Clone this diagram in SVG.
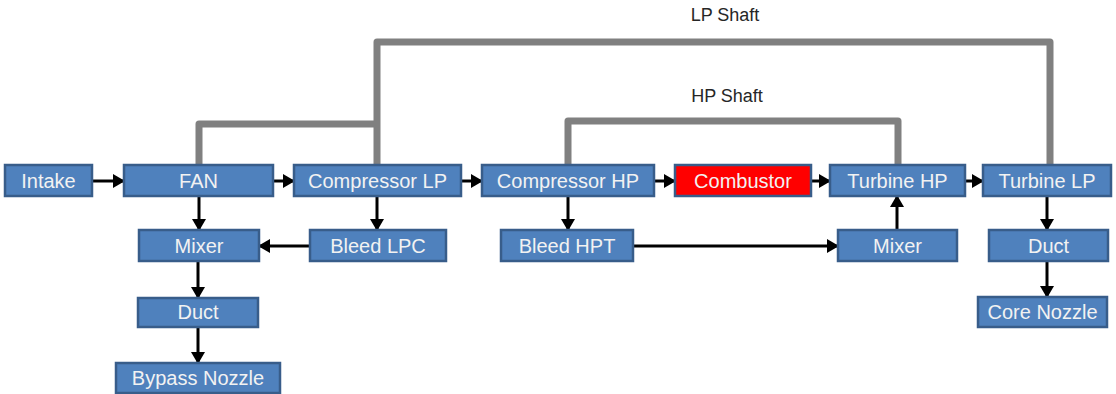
<svg xmlns="http://www.w3.org/2000/svg" width="1116" height="394" viewBox="0 0 1116 394">
<style>
.n{fill:#4F81BD;stroke:#385D8A;stroke-width:2.5}
.r{fill:#FF0000;stroke:#385D8A;stroke-width:2.5}
.t{font-family:"Liberation Sans",Arial,sans-serif;font-size:20px;fill:#F2F2F2;text-anchor:middle}
.lbl{font-family:"Liberation Sans",Arial,sans-serif;font-size:18px;fill:#262626;text-anchor:middle}
.sh{fill:none;stroke:#808080;stroke-width:7;stroke-linejoin:round}
.a{fill:none;stroke:#000;stroke-width:3;marker-end:url(#ah)}
</style>
<defs>
<marker id="ah" markerUnits="userSpaceOnUse" markerWidth="12" markerHeight="14" refX="11" refY="7" orient="auto">
<path d="M0,0 L12,7 L0,14 z" fill="#000"/>
</marker>
</defs>
<rect width="1116" height="394" fill="#fff"/>
<g id="shafts">
<path class="sh" d="M199,165 V124 H377 M377,165 V42 H1050 V165"/>
<path class="sh" d="M568,165 V121 H898 V165"/>
<text class="lbl" x="725" y="21">LP Shaft</text>
<text class="lbl" x="727" y="102">HP Shaft</text>
</g>
<g id="connectors">
<line class="a" x1="92" y1="181" x2="124" y2="181"/>
<line class="a" x1="273" y1="181" x2="294" y2="181"/>
<line class="a" x1="461" y1="181" x2="482" y2="181"/>
<line class="a" x1="654" y1="181" x2="675" y2="181"/>
<line class="a" x1="811" y1="181" x2="830" y2="181"/>
<line class="a" x1="965" y1="181" x2="983" y2="181"/>
<line class="a" x1="199" y1="196" x2="199" y2="230"/>
<line class="a" x1="377" y1="196" x2="377" y2="230"/>
<line class="a" x1="310" y1="246" x2="259" y2="246"/>
<line class="a" x1="568" y1="196" x2="568" y2="230"/>
<line class="a" x1="633" y1="246" x2="838" y2="246"/>
<line class="a" x1="897" y1="230" x2="897" y2="196"/>
<line class="a" x1="1047" y1="196" x2="1047" y2="230"/>
<line class="a" x1="1047" y1="261" x2="1047" y2="297"/>
<line class="a" x1="198" y1="261" x2="198" y2="298"/>
<line class="a" x1="198" y1="327" x2="198" y2="363"/>
</g>
<g id="intake"><rect class="n" x="5" y="165" width="87" height="31"/><text class="t" x="48.5" y="188">Intake</text></g>
<g id="fan"><rect class="n" x="124" y="165" width="149" height="31"/><text class="t" x="198.5" y="188">FAN</text></g>
<g id="compressor-lp"><rect class="n" x="294" y="165" width="167" height="31"/><text class="t" x="377.5" y="188">Compressor LP</text></g>
<g id="compressor-hp"><rect class="n" x="482" y="165" width="172" height="31"/><text class="t" x="568" y="188">Compressor HP</text></g>
<g id="combustor"><rect class="r" x="675" y="165" width="136" height="31"/><text class="t" x="743" y="188">Combustor</text></g>
<g id="turbine-hp"><rect class="n" x="830" y="165" width="135" height="31"/><text class="t" x="897.5" y="188">Turbine HP</text></g>
<g id="turbine-lp"><rect class="n" x="983" y="165" width="128" height="31"/><text class="t" x="1047" y="188">Turbine LP</text></g>
<g id="mixer-left"><rect class="n" x="139" y="230" width="120" height="31"/><text class="t" x="199" y="253">Mixer</text></g>
<g id="bleed-lpc"><rect class="n" x="310" y="230" width="136" height="31"/><text class="t" x="378" y="253">Bleed LPC</text></g>
<g id="bleed-hpt"><rect class="n" x="501" y="230" width="132" height="31"/><text class="t" x="567" y="253">Bleed HPT</text></g>
<g id="mixer-right"><rect class="n" x="838" y="230" width="119" height="31"/><text class="t" x="897.5" y="253">Mixer</text></g>
<g id="duct-right"><rect class="n" x="989" y="230" width="119" height="31"/><text class="t" x="1048.5" y="253">Duct</text></g>
<g id="duct-left"><rect class="n" x="138" y="298" width="120" height="29"/><text class="t" x="198" y="319">Duct</text></g>
<g id="core-nozzle"><rect class="n" x="978" y="297" width="129" height="30"/><text class="t" x="1042.5" y="319">Core Nozzle</text></g>
<g id="bypass-nozzle"><rect class="n" x="116" y="363" width="164" height="30"/><text class="t" x="198" y="385">Bypass Nozzle</text></g>
</svg>
